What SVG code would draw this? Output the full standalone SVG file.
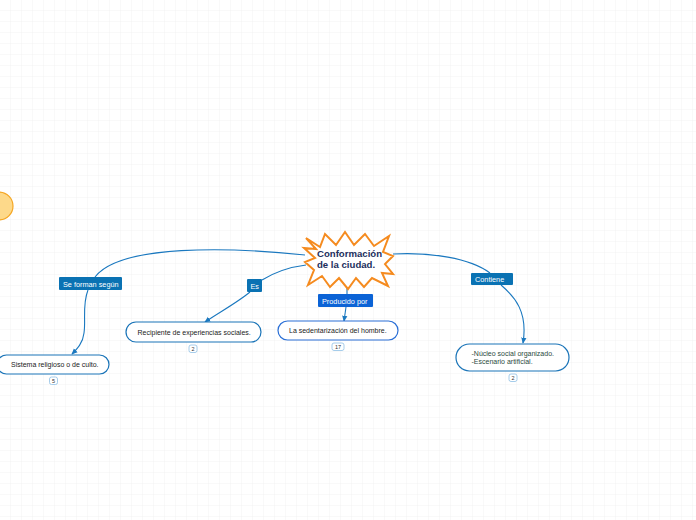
<svg xmlns="http://www.w3.org/2000/svg" width="696" height="520" viewBox="0 0 696 520">
<defs>
<pattern id="grid" width="11" height="11" patternUnits="userSpaceOnUse">
<path d="M11 0V11H0" fill="none" stroke="#f0f0f0" stroke-width="0.8"/>
</pattern>
<marker id="arr" viewBox="0 0 10 10" refX="8" refY="5" markerWidth="6" markerHeight="6" orient="auto">
<path d="M0 1L9 5L0 9z" fill="#1a78bf"/>
</marker>
<style>
.conn{fill:none;stroke:#1a78bf;stroke-width:1.1}
.lbl rect{fill:#0a72b3}
.lbl text{fill:#fff;font-family:"Liberation Sans",Arial,sans-serif;font-size:7.3px}
.node rect.b{fill:#fff;stroke:#1a74b8;stroke-width:1.2}
.node text{fill:#222;font-family:"Liberation Sans",Arial,sans-serif;font-size:7px}
.badge rect{fill:#fff;stroke:#8fc0e6;stroke-width:0.8}
.badge text{fill:#333;font-family:"Liberation Sans",Arial,sans-serif;font-size:5.5px;text-anchor:middle}
</style>
</defs>
<rect width="696" height="520" fill="#fff"/>
<rect width="696" height="520" fill="url(#grid)"/>

<g id="orange-circle">
<circle cx="-1" cy="206" r="14" fill="#fdd98a" stroke="#f5a623" stroke-width="1.2"/>
</g>

<g id="connectors">
<path class="conn" d="M305,255 C230,247 120,244 95,277"/>
<path class="conn" d="M88,290 C82,305 86,320 84,333 C83,343 77,349 72,354" marker-end="url(#arr)"/>
<path class="conn" d="M306,265 C290,267 275,272 262,280"/>
<path class="conn" d="M250,292 C238,302 220,312 205,322" marker-end="url(#arr)"/>
<path class="conn" d="M347,287 L347,294"/>
<path class="conn" d="M346,307 L344,321" marker-end="url(#arr)"/>
<path class="conn" d="M393,254 C430,252 470,258 490,273"/>
<path class="conn" d="M501,285 C515,297 528,312 523,343" marker-end="url(#arr)"/>
</g>

<g id="central">
<polygon points="306,238 320,247 325,234 336,245 345,232 354,245 365,234 374,246 389,236 383,252 393,256 385,264 393,274 382,273 388,286 372,278 364,287 356,278 348,289 339,278 330,287 322,276 308,285 314,270 305,262 315,258 304,248 316,249" fill="#fff" stroke="#f58b1f" stroke-width="2" stroke-linejoin="miter"/>
<text font-family="Liberation Sans,Arial,sans-serif" font-size="9.6" font-weight="bold" fill="#1c2e5c"><tspan x="317" y="257">Conformación</tspan><tspan x="317" y="268">de la ciudad.</tspan></text>
</g>

<g id="lbl-se-forman" class="lbl">
<rect x="59" y="277" width="63" height="13" rx="1"/>
<text x="63" y="286.5">Se forman según</text>
</g>
<g id="lbl-es" class="lbl">
<rect x="247" y="279" width="15" height="13" rx="1"/>
<text x="250.5" y="288.5">Es</text>
</g>
<g id="lbl-producido" class="lbl">
<rect x="318" y="294" width="55" height="13" rx="1" style="fill:#0b63d6"/>
<text x="322" y="303.5">Producido por</text>
</g>
<g id="lbl-contiene" class="lbl">
<rect x="471" y="273" width="42" height="12" rx="1"/>
<text x="475" y="282">Contiene</text>
</g>

<g id="node-sistema" class="node">
<rect class="b" x="-3" y="355" width="112" height="19" rx="9.5"/>
<text x="11" y="367">Sistema religioso o de culto.</text>
<g class="badge"><rect x="49.5" y="377" width="8" height="7.5" rx="2"/><text x="53.5" y="383">5</text></g>
</g>

<g id="node-recipiente" class="node">
<rect class="b" x="126" y="322" width="135" height="20" rx="10"/>
<text x="137.5" y="334.5">Recipiente de experiencias sociales.</text>
<g class="badge"><rect x="189" y="345" width="8" height="7.5" rx="2"/><text x="193" y="351">2</text></g>
</g>

<g id="node-sedentarizacion" class="node">
<rect class="b" x="278" y="321" width="120" height="19" rx="9.5" style="stroke:#2a6fd6"/>
<text x="289" y="333">La sedentarización del hombre.</text>
<g class="badge"><rect x="332" y="343" width="12" height="7.5" rx="2"/><text x="338" y="349">17</text></g>
</g>

<g id="node-nucleo" class="node">
<rect class="b" x="456" y="344" width="113" height="27" rx="13.5"/>
<text style="fill:#2b4a3e"><tspan x="471.5" y="355.5">-Núcleo social organizado.</tspan><tspan x="471.5" y="364">-Escenario artificial.</tspan></text>
<g class="badge"><rect x="509" y="374" width="8" height="7.5" rx="2"/><text x="513" y="380">2</text></g>
</g>
</svg>
